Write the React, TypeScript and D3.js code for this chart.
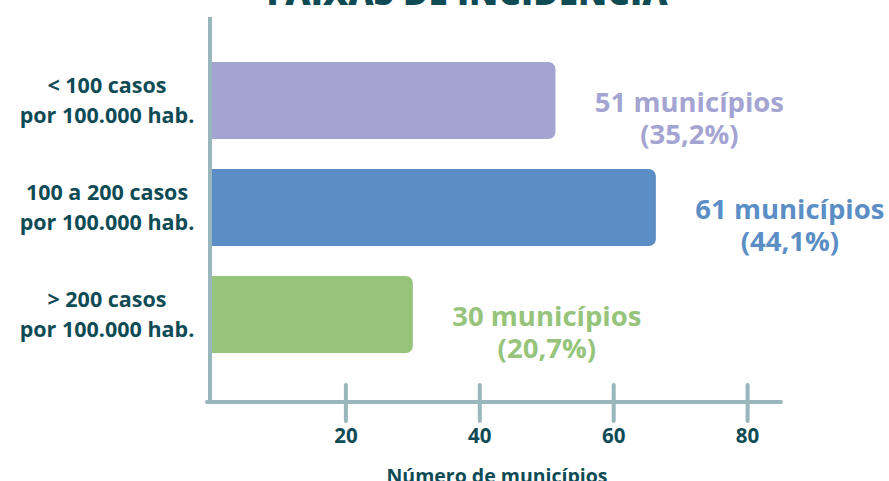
import React from "react";
import * as d3 from "d3";

// Data
const categories = [
  ["< 100 casos", "por 100.000 hab."],
  ["100 a 200 casos", "por 100.000 hab."],
  ["> 200 casos", "por 100.000 hab."],
];
const counts = [51, 61, 30];
const percents = ["35,2%", "44,1%", "20,7%"];
// Bar lengths as drawn in the reference
const barLengths = [51.3, 66.3, 30];
const tickValues = [20, 40, 60, 80];
const colors = ["#a4a4d2", "#5b8ec5", "#96c47b"];
const title = "FAIXAS DE INCIDÊNCIA";
const xTitle = "Número de municípios";

const W = 889;
const H = 481;
const TEXT = "#0e4b55";
const AXIS = "#98b6bb";
const FONT = "'Open Sans', sans-serif";

function barPath(x0: number, y0: number, w: number, h: number, r: number) {
  const p = d3.path();
  p.moveTo(x0, y0);
  p.lineTo(x0 + w - r, y0);
  p.arcTo(x0 + w, y0, x0 + w, y0 + r, r);
  p.lineTo(x0 + w, y0 + h - r);
  p.arcTo(x0 + w, y0 + h, x0 + w - r, y0 + h, r);
  p.lineTo(x0, y0 + h);
  p.closePath();
  return p.toString();
}

export default function App() {
  React.useEffect(() => {
    document.body.style.margin = "0";
  }, []);

  const x = d3.scaleLinear().domain([0, 80]).range([212, 747.6]);
  const idx = categories.map((_, i) => String(i));
  const y = d3
    .scaleBand<string>()
    .domain(idx)
    .range([47, 368])
    .paddingInner(0.28)
    .paddingOuter(0.14);

  const axisY = 402;

  return (
    <svg width={W} height={H} style={{ display: "block", fontFamily: FONT }}>
      <rect width={W} height={H} fill="#ffffff" />
      <text
        x={467}
        y={4.5}
        textAnchor="middle"
        fontSize={35}
        fontWeight={800}
        fill={TEXT}
      >
        {title}
      </text>

      {/* bars */}
      {barLengths.map((v, i) => (
        <path
          key={"b" + i}
          d={barPath(x(0), y(String(i))!, x(v) - x(0), y.bandwidth(), 7)}
          fill={colors[i]}
        />
      ))}

      {/* y axis */}
      <line x1={210} x2={210} y1={17} y2={axisY} stroke={AXIS} strokeWidth={4} />
      {/* x axis */}
      <line
        x1={207}
        x2={781}
        y1={axisY}
        y2={axisY}
        stroke={AXIS}
        strokeWidth={4}
        strokeLinecap="round"
      />
      {tickValues.map((t) => (
        <g key={"t" + t}>
          <line
            x1={x(t)}
            x2={x(t)}
            y1={385}
            y2={421}
            stroke={AXIS}
            strokeWidth={4}
            strokeLinecap="round"
          />
          <text
            x={x(t)}
            y={443}
            textAnchor="middle"
            fontSize={20.5}
            fontWeight={700}
            fill={TEXT}
          >
            {t}
          </text>
        </g>
      ))}
      <text
        x={497}
        y={483}
        textAnchor="middle"
        fontSize={19.5}
        fontWeight={700}
        fill={TEXT}
      >
        {xTitle}
      </text>

      {/* category labels */}
      {categories.map((lines, i) => {
        const cy = y(String(i))! + y.bandwidth() / 2;
        return (
          <text
            key={"c" + i}
            textAnchor="middle"
            fontSize={21.5}
            fontWeight={700}
            fill={TEXT}
          >
            <tspan x={107} y={cy - 15 + 7.5}>
              {lines[0]}
            </tspan>
            <tspan x={107} y={cy + 15 + 7.5}>
              {lines[1]}
            </tspan>
          </text>
        );
      })}

      {/* value labels */}
      {counts.map((c, i) => {
        const cy = y(String(i))! + y.bandwidth() / 2;
        const lx = x(barLengths[i]) + 134;
        return (
          <text
            key={"v" + i}
            textAnchor="middle"
            fontSize={27.5}
            fontWeight={700}
            fill={colors[i]}
          >
            <tspan x={lx} y={cy + 1 + 10}>
              {c} municípios
            </tspan>
            <tspan x={lx} y={cy + 33 + 10}>
              ({percents[i]})
            </tspan>
          </text>
        );
      })}
    </svg>
  );
}
